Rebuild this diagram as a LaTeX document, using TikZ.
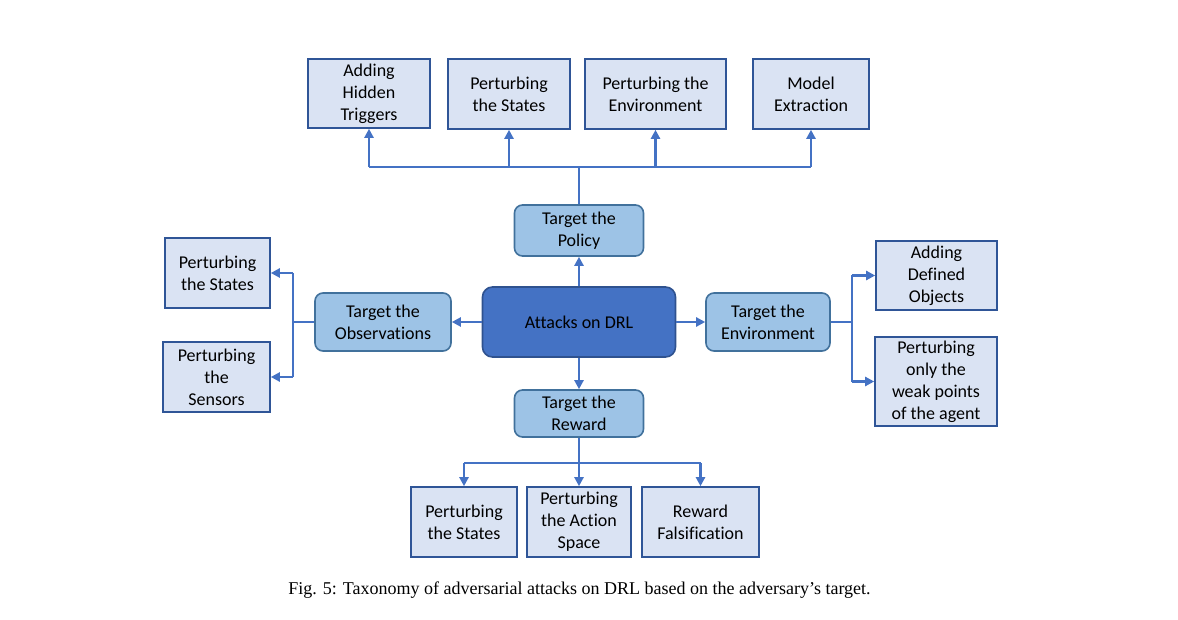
\documentclass[tikz,border=0pt]{standalone}
\usepackage{fontspec}
\setmainfont{Carlito}[Ligatures=NoCommon]
\newfontfamily\capfont{Liberation Serif}
\usetikzlibrary{arrows.meta}
\definecolor{leaffill}{HTML}{DAE3F3}
\definecolor{leafdraw}{HTML}{2F5597}
\definecolor{midfill}{HTML}{9DC3E6}
\definecolor{middraw}{HTML}{41719C}
\definecolor{rootfill}{HTML}{4472C4}
\definecolor{rootdraw}{HTML}{2F528F}
\definecolor{arrowc}{HTML}{4472C4}
\tikzset{
  leaf/.style={draw=leafdraw, fill=leaffill, line width=1.6pt, align=center, inner sep=0pt,
    font=\fontsize{18}{22}\selectfont},
  mid/.style={draw=middraw, fill=midfill, line width=1.6pt, rounded corners=8pt, align=center, inner sep=0pt,
    font=\fontsize{18}{22}\selectfont},
  root/.style={draw=rootdraw, fill=rootfill, line width=1.6pt, rounded corners=10pt, align=center, inner sep=0pt,
    font=\fontsize{18}{22}\selectfont},
  conn/.style={draw=arrowc, line width=2.8pt},
  arr/.style={conn, -{Triangle[length=9pt,width=9pt]}},
}
\begin{document}
\begin{tikzpicture}[x=1pt,y=-1pt]
\useasboundingbox (0,0) rectangle (1178,620);
% root
\node[root, minimum width=193pt, minimum height=70pt] (root) at (579,322) {Attacks on DRL};
% mid level
\node[mid, minimum width=129pt, minimum height=51pt] (policy) at (579,230.5) {Target the\\Policy};
\node[mid, minimum width=136pt, minimum height=58pt] (obs) at (383,322) {Target the\\Observations};
\node[mid, minimum width=124pt, minimum height=58pt] (env) at (768,322) {Target the\\Environment};
\node[mid, minimum width=129pt, minimum height=47pt] (rew) at (579,413.5) {Target the\\Reward};
% top leaves
\node[leaf, minimum width=122pt, minimum height=69pt] (t1) at (369,93.5) {Adding\\Hidden\\Triggers};
\node[leaf, minimum width=122pt, minimum height=70pt] (t2) at (509,94) {Perturbing\\the States};
\node[leaf, minimum width=141pt, minimum height=70pt] (t3) at (655.5,94) {Perturbing the\\Environment};
\node[leaf, minimum width=116pt, minimum height=70pt] (t4) at (811,94) {Model\\Extraction};
% left leaves
\node[leaf, minimum width=105pt, minimum height=70pt] (l1) at (217.5,273) {Perturbing\\the States};
\node[leaf, minimum width=107pt, minimum height=70pt] (l2) at (216.5,377) {Perturbing\\the\\Sensors};
% right leaves
\node[leaf, minimum width=121pt, minimum height=69pt] (r1) at (936.5,275.5) {Adding\\Defined\\Objects};
\node[leaf, minimum width=122pt, minimum height=89pt] (r2) at (936,381.5) {Perturbing\\only the\\weak points\\of the agent};
% bottom leaves
\node[leaf, minimum width=106pt, minimum height=70pt] (b1) at (464,522) {Perturbing\\the States};
\node[leaf, minimum width=104pt, minimum height=70pt] (b2) at (579,522) {Perturbing\\the Action\\Space};
\node[leaf, minimum width=117pt, minimum height=70pt] (b3) at (700.5,522) {Reward\\Falsification};
% coordinates for buses
\coordinate (tbus) at (579,167);
\coordinate (bbus) at (579,463);
\coordinate (lbus) at (293,322);
\coordinate (rbus) at (852,322);
% root to mid
\draw[arr] (root.north) -- (policy.south);
\draw[arr] (root.south) -- (rew.north);
\draw[arr] (root.west) -- (obs.east);
\draw[arr] (root.east) -- (env.west);
% top bus
\draw[conn] (policy.north) -- (tbus);
\draw[conn] (tbus -| t1.south) -- (tbus -| t4.south);
\foreach \n in {t1,t2,t3,t4} \draw[arr] (tbus -| \n.south) -- (\n.south);
% bottom bus
\draw[conn] (rew.south) -- (bbus);
\draw[conn] (bbus -| b1.north) -- (bbus -| b3.north);
\foreach \n in {b1,b2,b3} \draw[arr] (bbus -| \n.north) -- (\n.north);
% left bus
\draw[conn] (obs.west) -- (lbus);
\draw[conn] (lbus |- l1.east) -- (lbus |- l2.east);
\foreach \n in {l1,l2} \draw[arr] (lbus |- \n.east) -- (\n.east);
% right bus
\draw[conn] (env.east) -- (rbus);
\draw[conn] (rbus |- r1.west) -- (rbus |- r2.west);
\foreach \n in {r1,r2} \draw[arr] (rbus |- \n.west) -- (\n.west);
% caption
\node[font=\capfont\fontsize{18}{22}\selectfont, inner sep=0pt] (cap) at (579.5,590) {Fig. 5: Taxonomy of adversarial attacks on DRL based on the adversary’s target.};
\end{tikzpicture}
\end{document}
